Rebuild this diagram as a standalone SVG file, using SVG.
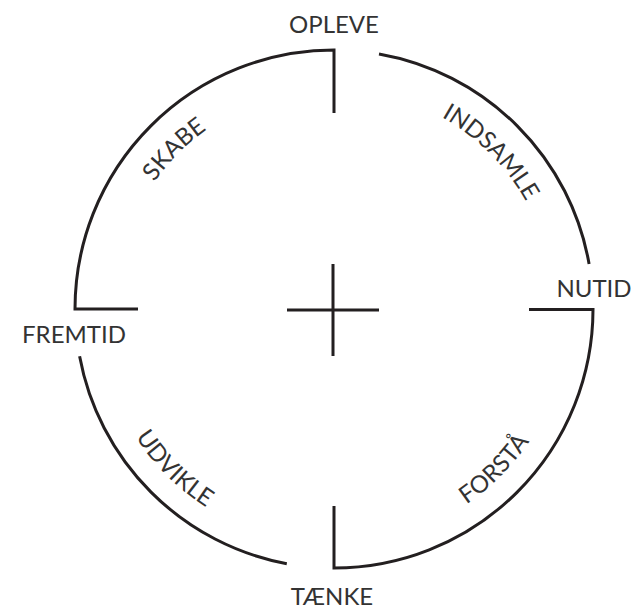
<svg xmlns="http://www.w3.org/2000/svg" xmlns:xlink="http://www.w3.org/1999/xlink" width="635" height="610" viewBox="0 0 635 610">
<style>
.ln{fill:none;stroke:#231f20;stroke-width:3;stroke-linecap:butt;stroke-linejoin:miter}
.lb{font-family:Lato,"Open Sans","Liberation Sans",sans-serif;font-size:24px;fill:#333333;text-anchor:middle}
</style>
<defs>
<path id="pSkabe" d="M114,309 A220,220 0 0 1 334,89"/>
<path id="pIndsamle" d="M334,89 A220,220 0 0 1 554,309"/>
<path id="pUdvikle" d="M98,309 A236,236 0 0 0 334,545"/>
<path id="pForsta" d="M334,545 A236,236 0 0 0 570,309"/>
</defs>
<rect width="635" height="610" fill="#ffffff"/>
<g id="connectors">
<path class="ln" d="M138,309 H75 A259,259 0 0 1 334,50 V113"/>
<path class="ln" d="M379,53.9 A259,259 0 0 1 589.1,264"/>
<path class="ln" d="M529,309.5 H593 A259,259 0 0 1 334,568 V506"/>
<path class="ln" d="M79.6,356.2 A259,259 0 0 0 286.8,563.7"/>
<path class="ln" d="M287,310 H379 M333,264 V356"/>
</g>
<g id="opleve"><text class="lb" x="334" y="33">OPLEVE</text></g>
<g id="nutid"><text class="lb" x="594" y="297">NUTID</text></g>
<g id="fremtid"><text class="lb" x="74" y="343">FREMTID</text></g>
<g id="taenke"><text class="lb" x="332" y="605">TÆNKE</text></g>
<g id="skabe"><text class="lb"><textPath xlink:href="#pSkabe" startOffset="50%">SKABE</textPath></text></g>
<g id="indsamle"><text class="lb"><textPath xlink:href="#pIndsamle" startOffset="50%">INDSAMLE</textPath></text></g>
<g id="udvikle"><text class="lb"><textPath xlink:href="#pUdvikle" startOffset="50%">UDVIKLE</textPath></text></g>
<g id="forsta"><text class="lb"><textPath xlink:href="#pForsta" startOffset="50%">FORSTÅ</textPath></text></g>
</svg>
